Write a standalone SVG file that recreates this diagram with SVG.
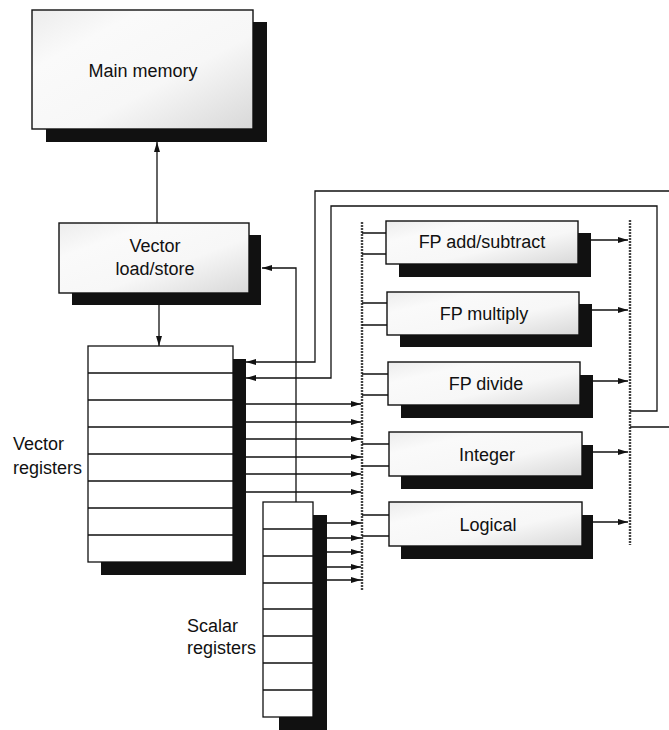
<svg xmlns="http://www.w3.org/2000/svg" width="669" height="730" viewBox="0 0 669 730">
<style>
.box{fill:url(#speck);stroke:#111;stroke-width:1.4}
.reg{fill:#fff;stroke:#111;stroke-width:1.3}
.shadow{fill:#111}
.lbl{font-family:"Liberation Sans",Arial,sans-serif;font-size:18px;fill:#111}
.mid{text-anchor:middle}
.ln{fill:none;stroke:#111;stroke-width:1.3}
.arr{fill:none;stroke:#111;stroke-width:1.3;marker-end:url(#ah)}
.bus{fill:none;stroke:#444;stroke-width:2.4;stroke-dasharray:2 1}
</style>
<defs>
<linearGradient id="speck" x1="0" y1="0" x2="1" y2="1">
<stop offset="0" stop-color="#ececec"/>
<stop offset="0.25" stop-color="#fafafa"/>
<stop offset="0.6" stop-color="#f7f7f7"/>
<stop offset="1" stop-color="#d8d8d8"/>
</linearGradient>
<marker id="ah" viewBox="0 0 10 6" refX="10" refY="3" markerWidth="10" markerHeight="6" markerUnits="userSpaceOnUse" orient="auto">
<path d="M0,0 L10,3 L0,6 z" fill="#111"/>
</marker>
</defs>

<g id="main-memory">
<rect class="shadow" x="46" y="22" width="221" height="120"/>
<rect class="box" x="32" y="10" width="221" height="119"/>
<text class="lbl mid" x="143" y="77">Main memory</text>
</g>

<g id="vector-load-store">
<rect class="shadow" x="72" y="235" width="189" height="70"/>
<rect class="box" x="59" y="223" width="190" height="70"/>
<text class="lbl mid" x="155" y="252">Vector</text>
<text class="lbl mid" x="155" y="275">load/store</text>
</g>

<g id="vector-registers">
<rect class="shadow" x="101" y="359" width="145" height="216"/>
<rect class="reg" x="88" y="346" width="145" height="216"/>
<path class="ln" d="M88,373H233M88,400H233M88,427H233M88,454H233M88,481H233M88,508H233M88,535H233"/>
<text class="lbl" x="13" y="450">Vector</text>
<text class="lbl" x="13" y="474">registers</text>
</g>

<g id="scalar-registers">
<rect class="shadow" x="279" y="515" width="48" height="215"/>
<rect class="reg" x="263" y="502" width="50" height="215"/>
<path class="ln" d="M263,529H313M263,556H313M263,583H313M263,609H313M263,636H313M263,663H313M263,690H313"/>
<text class="lbl" x="187" y="632">Scalar</text>
<text class="lbl" x="187" y="654">registers</text>
</g>

<g id="fp-add-subtract">
<rect class="shadow" x="399" y="233" width="192" height="44"/>
<rect class="box" x="386" y="221" width="192" height="43"/>
<text class="lbl mid" x="482" y="248">FP add/subtract</text>
</g>

<g id="fp-multiply">
<rect class="shadow" x="400" y="304" width="192" height="43"/>
<rect class="box" x="387" y="292" width="192" height="43"/>
<text class="lbl mid" x="484" y="320">FP multiply</text>
</g>

<g id="fp-divide">
<rect class="shadow" x="401" y="375" width="192" height="43"/>
<rect class="box" x="388" y="362" width="192" height="43"/>
<text class="lbl mid" x="486" y="390">FP divide</text>
</g>

<g id="integer">
<rect class="shadow" x="401" y="445" width="192" height="44"/>
<rect class="box" x="389" y="432" width="193" height="44"/>
<text class="lbl mid" x="487" y="461">Integer</text>
</g>

<g id="logical">
<rect class="shadow" x="401" y="515" width="192" height="44"/>
<rect class="box" x="389" y="502" width="193" height="44"/>
<text class="lbl mid" x="488" y="531">Logical</text>
</g>

<g id="connectors">
<!-- buses -->
<path class="bus" d="M362,222V590"/>
<path class="bus" d="M630,220V545"/>
<!-- memory <-> load/store -->
<path class="arr" d="M157,223V142"/>
<path class="arr" d="M159,305V346"/>
<!-- scalar to load/store -->
<path class="arr" d="M296,502V268H262"/>
<!-- feedback loops into vector registers -->
<path class="arr" d="M669,191H315V362H246"/>
<path class="ln" d="M630,427H669"/>
<path class="arr" d="M630,411H657V206H331V378H246"/>
<!-- vector registers to bus -->
<path class="arr" d="M246,404H361"/>
<path class="arr" d="M246,422H361"/>
<path class="arr" d="M246,439H361"/>
<path class="arr" d="M246,457H361"/>
<path class="arr" d="M246,474H361"/>
<path class="arr" d="M246,492H361"/>
<!-- scalar registers to bus -->
<path class="arr" d="M327,523H361"/>
<path class="arr" d="M327,538H361"/>
<path class="arr" d="M327,552H361"/>
<path class="arr" d="M327,567H361"/>
<path class="arr" d="M327,580H361"/>
<!-- bus to functional units -->
<path class="ln" d="M362,233H386M362,254H386"/>
<path class="ln" d="M362,303H387M362,325H387"/>
<path class="ln" d="M362,374H388M362,395H388"/>
<path class="ln" d="M362,444H389M362,466H389"/>
<path class="ln" d="M362,515H389M362,536H389"/>
<!-- functional units to output bus -->
<path class="arr" d="M591,240H628"/>
<path class="arr" d="M592,310H628"/>
<path class="arr" d="M593,381H628"/>
<path class="arr" d="M593,452H628"/>
<path class="arr" d="M593,522H628"/>
</g>
</svg>
